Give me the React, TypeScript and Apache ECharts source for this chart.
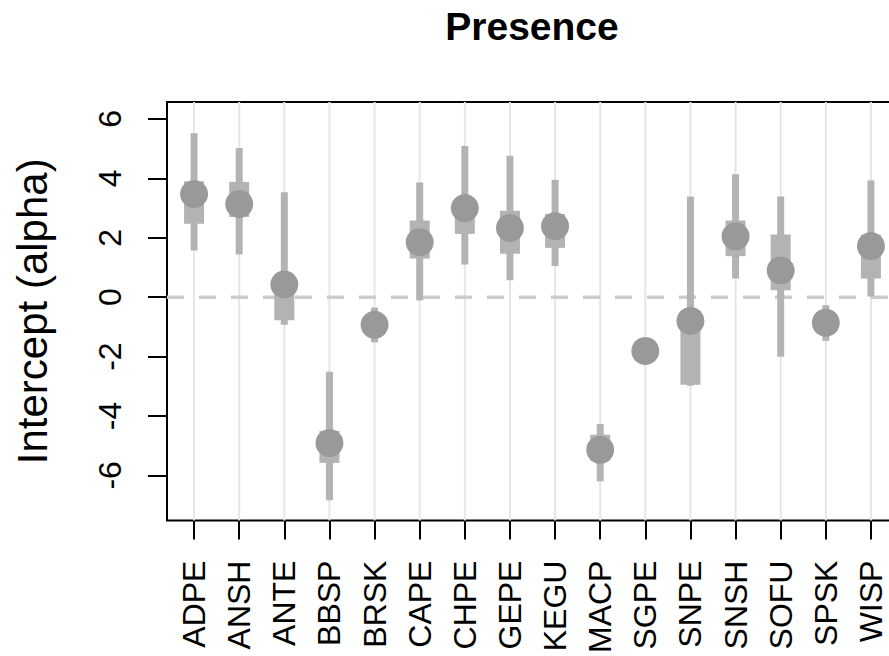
import React, { useEffect, useRef } from "react";
import * as echarts from "echarts";

const categories = ["ADPE", "ANSH", "ANTE", "BBSP", "BRSK", "CAPE", "CHPE", "GEPE", "KEGU", "MACP", "SGPE", "SNPE", "SNSH", "SOFU", "SPSK", "WISP"];
const estimate = [3.47, 3.14, 0.43, -4.91, -0.93, 1.85, 3.0, 2.33, 2.39, -5.14, -1.81, -0.8, 2.05, 0.9, -0.86, 1.72];
const lower95 = [1.57, 1.44, -0.93, -6.84, -1.52, -0.11, 1.1, 0.57, 1.05, -6.2, -2.2, -2.98, 0.63, -2.01, -1.47, 0.02];
const upper95 = [5.52, 5.02, 3.53, -2.51, -0.35, 3.86, 5.09, 4.76, 3.95, -4.27, -1.45, 3.39, 4.14, 3.39, -0.27, 3.93];
const lower50 = [2.47, 2.7, -0.78, -5.58, -1.15, 1.3, 2.13, 1.46, 1.66, -5.5, -2.0, -2.95, 1.38, 0.23, -1.1, 0.63];
const upper50 = [3.9, 3.88, 0.7, -4.5, -0.7, 2.58, 3.3, 2.91, 2.8, -4.63, -1.6, -0.5, 2.58, 2.11, -0.65, 2.1];
const yTicks = [-6, -4, -2, 0, 2, 4, 6];
const positions = categories.map((_, i) => i + 1);

const FONT = "'Liberation Sans', Arial, Helvetica, sans-serif";
const CHART_W = 920;

export default function App() {
  const ref = useRef<HTMLDivElement>(null);

  useEffect(() => {
    if (!ref.current) return;
    const chart = echarts.init(ref.current, undefined, { renderer: "svg" });

    const ciData = positions.map((p, i) => [p, lower95[i], upper95[i], lower50[i], upper50[i], estimate[i]]);

    const option: any = {
      animation: false,
      backgroundColor: "#ffffff",
      graphic: [
        {
          type: "text",
          x: 532,
          y: 26,
          style: {
            text: "Presence",
            font: `bold 39px ${FONT}`,
            fill: "#000",
            textAlign: "center",
            textVerticalAlign: "middle",
          },
        },
      ],
      grid: {
        left: 167,
        right: CHART_W - 898,
        top: 102,
        bottom: 134,
        show: true,
        borderColor: "#000",
        borderWidth: 2,
        backgroundColor: "transparent",
      },
      xAxis: {
        type: "value",
        min: 0.4,
        max: 16.6,
        axisLine: { show: false, onZero: false },
        splitLine: { show: false },
        axisTick: {
          show: true,
          customValues: positions,
          length: 19,
          lineStyle: { color: "#000", width: 2 },
        },
        axisLabel: {
          customValues: positions,
          formatter: (v: number) => categories[Math.round(v) - 1] ?? "",
          rotate: 90,
          margin: 40,
          fontSize: 32,
          color: "#000",
          fontFamily: FONT,
        },
      },
      yAxis: {
        type: "value",
        min: -7.52,
        max: 6.57,
        name: "Intercept (alpha)",
        nameLocation: "middle",
        nameRotate: 90,
        nameGap: 114,
        nameTextStyle: { fontSize: 42, color: "#000", fontFamily: FONT },
        axisLine: { show: false, onZero: false },
        splitLine: { show: false },
        axisTick: {
          show: true,
          customValues: yTicks,
          length: 19,
          lineStyle: { color: "#000", width: 2 },
        },
        axisLabel: {
          customValues: yTicks,
          rotate: 90,
          margin: 41,
          fontSize: 32,
          color: "#000",
          fontFamily: FONT,
        },
      },
      series: [
        {
          type: "custom",
          name: "grid",
          silent: true,
          data: positions.map((p) => [p]),
          renderItem: (params: any, api: any) => {
            const x = api.coord([api.value(0), 0])[0];
            const cs = params.coordSys;
            return {
              type: "line",
              shape: { x1: x, y1: cs.y, x2: x, y2: cs.y + cs.height },
              style: { stroke: "#e6e6e6", lineWidth: 2 },
            };
          },
          z: 1,
        },
        {
          type: "custom",
          name: "zero",
          silent: true,
          data: [[0]],
          renderItem: (params: any, api: any) => {
            const cs = params.coordSys;
            const y = api.coord([1, api.value(0)])[1];
            return {
              type: "line",
              shape: { x1: cs.x, y1: y, x2: cs.x + cs.width, y2: y },
              style: { stroke: "#cccccc", lineWidth: 3.5, lineDash: [17, 15] },
            };
          },
          z: 2,
        },
        {
          type: "custom",
          name: "estimates",
          data: ciData,
          renderItem: (params: any, api: any) => {
            const x = api.coord([api.value(0), 0])[0];
            const y95lo = api.coord([0, api.value(1)])[1];
            const y95hi = api.coord([0, api.value(2)])[1];
            const y50lo = api.coord([0, api.value(3)])[1];
            const y50hi = api.coord([0, api.value(4)])[1];
            const ym = api.coord([0, api.value(5)])[1];
            return {
              type: "group",
              children: [
                {
                  type: "rect",
                  shape: { x: x - 3.5, y: y95hi, width: 7, height: y95lo - y95hi },
                  style: { fill: "#b3b3b3" },
                },
                {
                  type: "rect",
                  shape: { x: x - 10, y: y50hi, width: 20, height: y50lo - y50hi },
                  style: { fill: "#b3b3b3" },
                },
                {
                  type: "circle",
                  shape: { cx: x, cy: ym, r: 14 },
                  style: { fill: "#999999" },
                },
              ],
            };
          },
          z: 3,
        },
      ],
    };

    chart.setOption(option);
    return () => chart.dispose();
  }, []);

  return (
    <div
      style={{ position: "fixed", left: 0, top: 0, width: 889, height: 656, overflow: "hidden", background: "#fff" }}
    >
      <div ref={ref} style={{ position: "absolute", left: 0, top: 0, width: CHART_W, height: 656 }} />
    </div>
  );
}
